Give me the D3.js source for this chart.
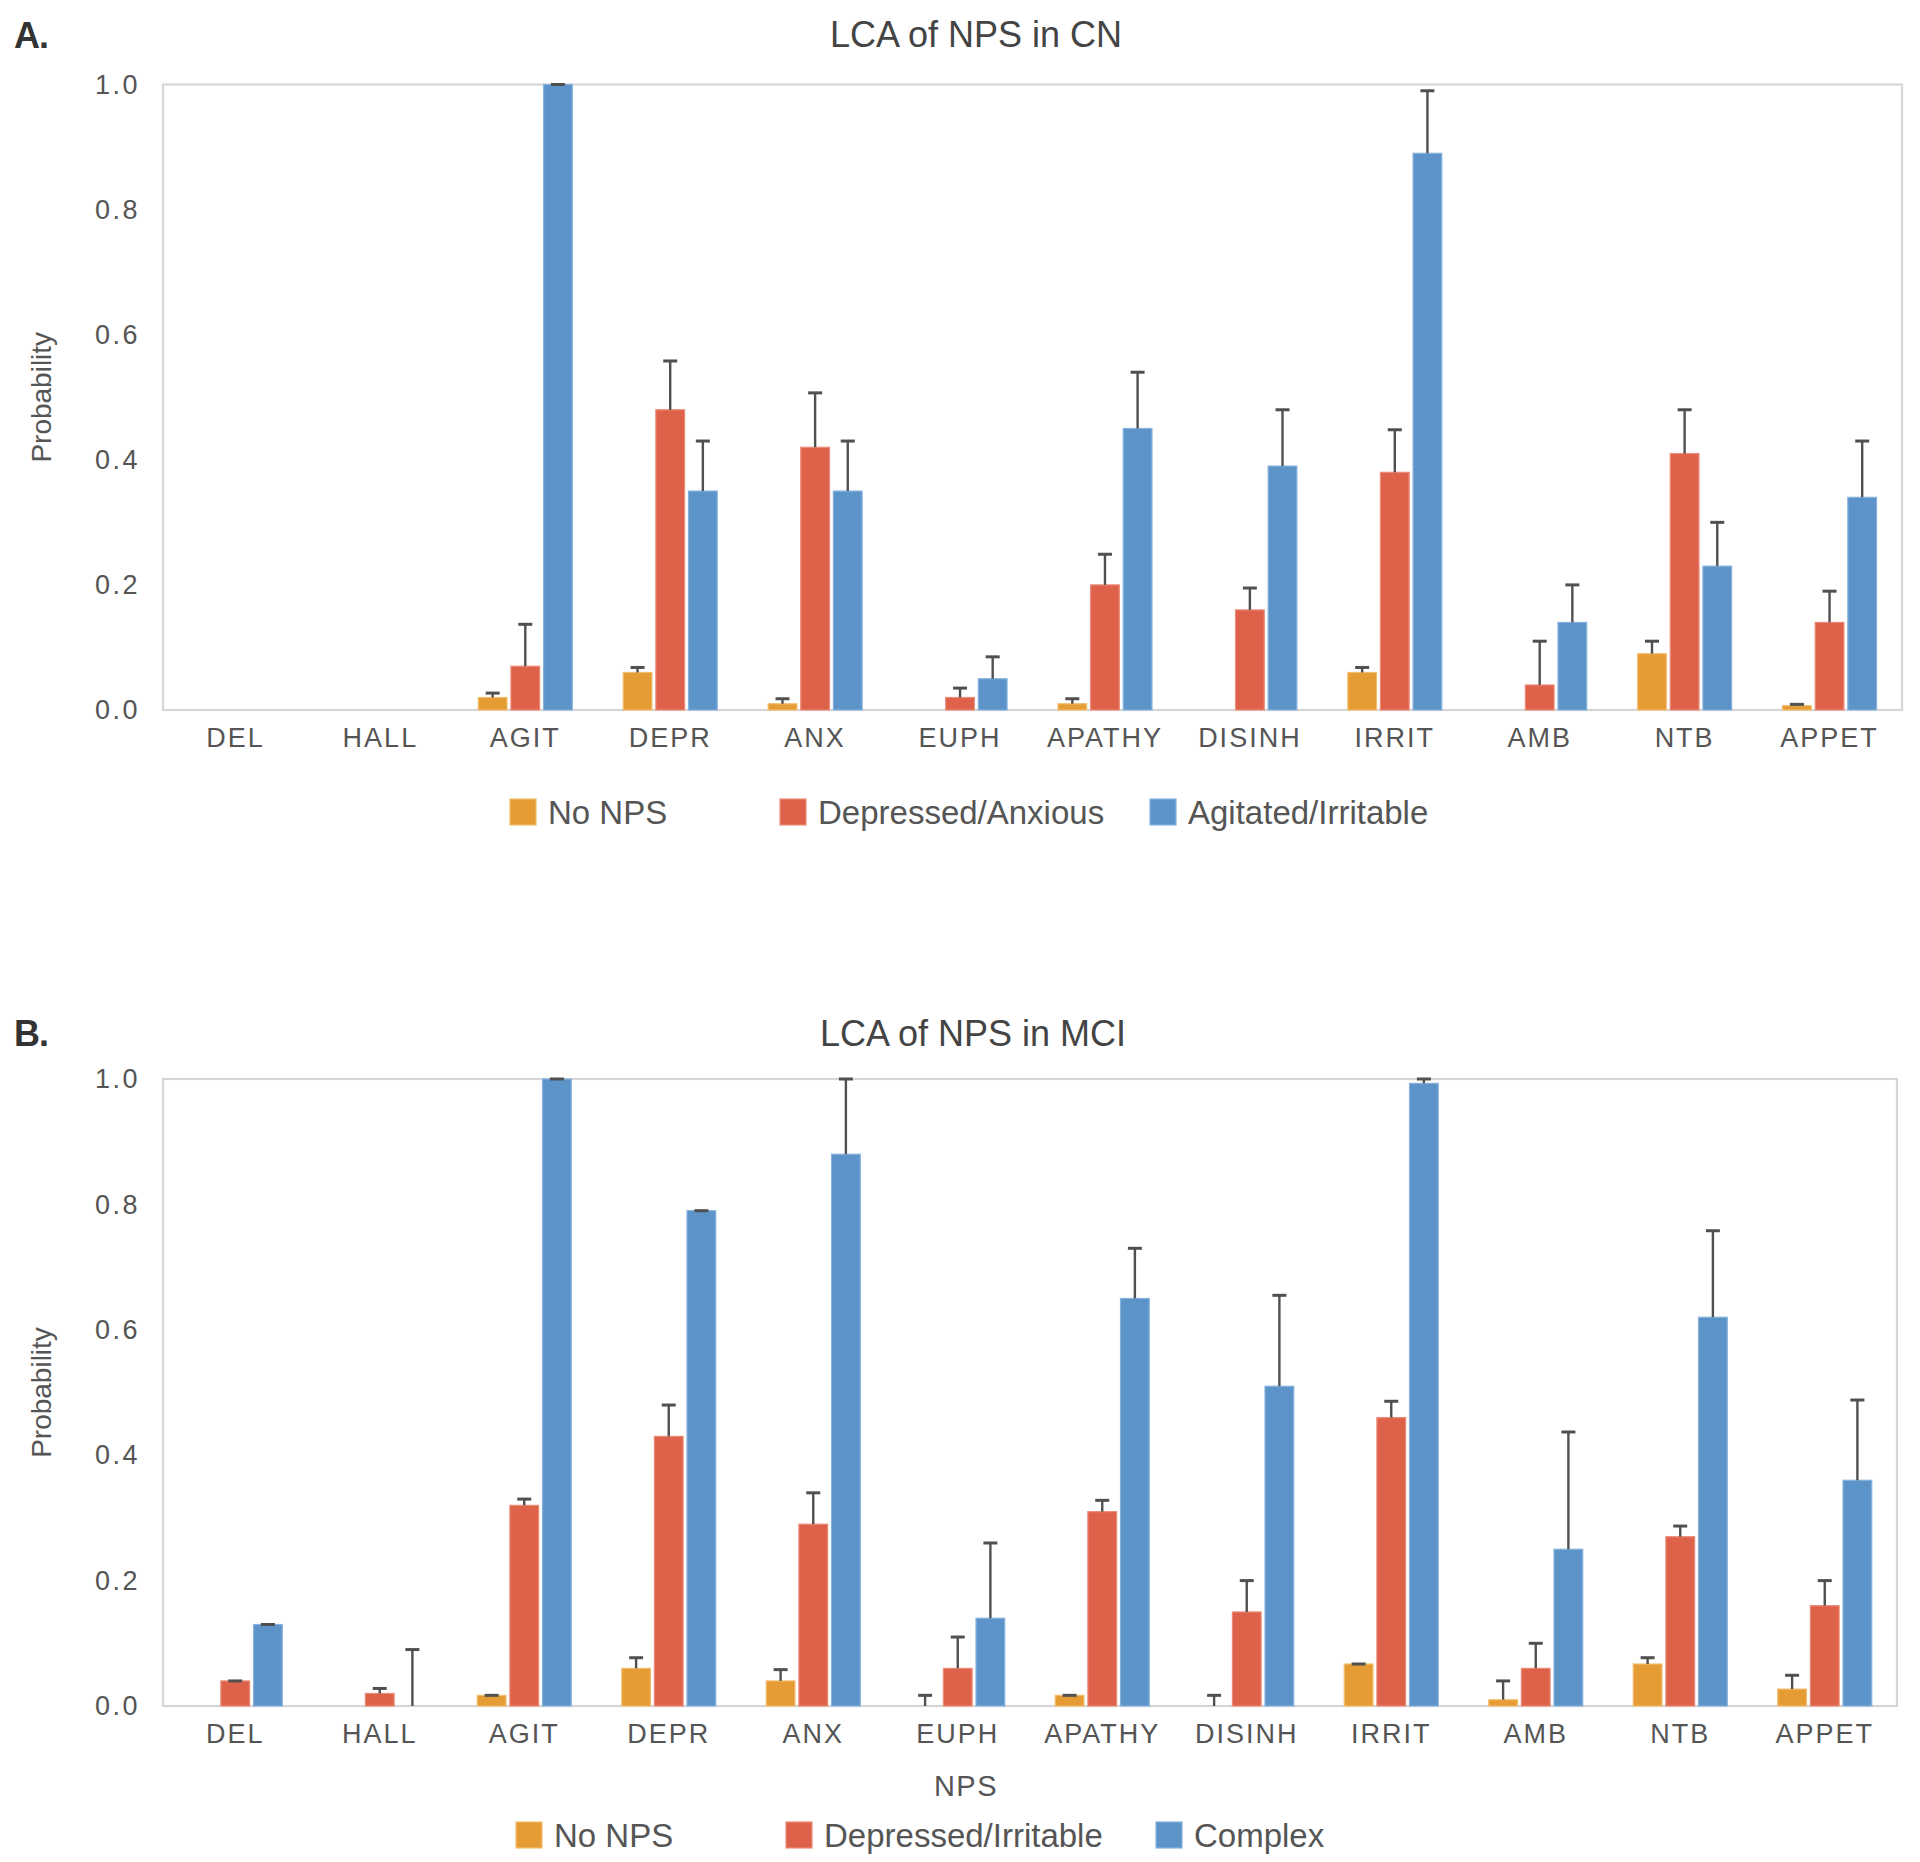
<!DOCTYPE html>
<html><head><meta charset="utf-8">
<script src="https://cdn.jsdelivr.net/npm/d3@7"></script>
<style>
html,body{margin:0;padding:0;background:#fff;}
svg{display:block;font-family:"Liberation Sans",Arial,Helvetica,sans-serif;}
</style></head>
<body>
<svg id="chart" width="1920" height="1862"></svg>
<script>
const categories = ["DEL","HALL","AGIT","DEPR","ANX","EUPH","APATHY","DISINH","IRRIT","AMB","NTB","APPET"];
const yTicks = [0,0.2,0.4,0.6,0.8,1.0];

// Panel A: LCA of NPS in CN
const seriesA = ["No NPS","Depressed/Anxious","Agitated/Irritable"];
const a_noNPS      = [0,0,0.02,0.06,0.01,0,0.01,0,0.06,0,0.09,0.007];
const a_noNPS_err  = [0,0,0.007,0.008,0.008,0,0.008,0,0.008,0,0.02,0.002];
const a_dep        = [0,0,0.07,0.48,0.42,0.02,0.20,0.16,0.38,0.04,0.41,0.14];
const a_dep_err    = [0,0,0.067,0.078,0.087,0.015,0.049,0.035,0.068,0.07,0.07,0.05];
const a_agit       = [0,0,1.0,0.35,0.35,0.05,0.45,0.39,0.89,0.14,0.23,0.34];
const a_agit_err   = [0,0,0,0.08,0.08,0.035,0.09,0.09,0.10,0.06,0.07,0.09];

// Panel B: LCA of NPS in MCI
const seriesB = ["No NPS","Depressed/Irritable","Complex"];
const b_noNPS      = [0,0,0.017,0.06,0.04,0,0.017,0,0.067,0.01,0.067,0.027];
const b_noNPS_err  = [0,0,0,0.017,0.018,0.017,0,0.017,0,0.03,0.01,0.022];
const b_dep        = [0.04,0.02,0.32,0.43,0.29,0.06,0.31,0.15,0.46,0.06,0.27,0.16];
const b_dep_err    = [0,0.008,0.01,0.05,0.05,0.05,0.018,0.05,0.026,0.04,0.017,0.04];
const b_complex    = [0.13,0,1.0,0.79,0.88,0.14,0.65,0.51,0.993,0.25,0.62,0.36];
const b_complex_err= [0,0.09,0,0,0.12,0.12,0.08,0.145,0.007,0.187,0.138,0.128];

const colors = ["#E59C34","#DE614A","#5C93C9"];
const strokes = ["#F2BE6E","#EC8C79","#86B2DD"];
const textCol = "#555";

const svg = d3.select("#chart");

const panels = [
  {letter:"A.", title:"LCA of NPS in CN", series:seriesA,
   values:[a_noNPS,a_dep,a_agit], errs:[a_noNPS_err,a_dep_err,a_agit_err],
   left:163, right:1902, top:84.5, bottom:710, titleX:976, titleY:47, letterY:48,
   legendY:812, legendX:[510,780,1150], xTitle:null},
  {letter:"B.", title:"LCA of NPS in MCI", series:seriesB,
   values:[b_noNPS,b_dep,b_complex], errs:[b_noNPS_err,b_dep_err,b_complex_err],
   left:163, right:1897, top:1079, bottom:1706, titleX:973, titleY:1046, letterY:1046,
   legendY:1835, legendX:[516,786,1156], xTitle:"NPS", xTitleX:966}
];

panels.forEach(p => {
  const g = svg.append("g");
  const x = d3.scaleBand().domain(categories).range([p.left,p.right]).padding(0);
  const y = d3.scaleLinear().domain([0,1]).range([p.bottom,p.top]);
  const inner = d3.scaleBand().domain(d3.range(p.series.length)).range([-47,47]).paddingInner(0.12);

  // letter
  g.append("text").attr("x",14).attr("y",p.letterY).text(p.letter)
    .attr("font-size",36).attr("font-weight","bold").attr("fill","#333").attr("letter-spacing",-1);
  // title
  g.append("text").attr("x",p.titleX).attr("y",p.titleY).attr("text-anchor","middle")
    .text(p.title).attr("font-size",36).attr("fill","#444");

  // frame
  g.append("rect").attr("x",p.left).attr("y",p.top).attr("width",p.right-p.left).attr("height",p.bottom-p.top)
    .attr("fill","none").attr("stroke","#d6d6d6").attr("stroke-width",2.2);

  // y axis
  const ya = g.append("g").attr("transform",`translate(${p.left},0)`)
    .call(d3.axisLeft(y).tickValues(yTicks).tickFormat(d3.format(".1f")).tickSize(0).tickPadding(23));
  ya.select(".domain").remove();
  ya.selectAll("text").attr("font-size",27).attr("fill",textCol).attr("letter-spacing",2.5)
    .attr("font-family","Liberation Sans, Arial, sans-serif");

  // x axis
  const xa = g.append("g").attr("transform",`translate(0,${p.bottom})`)
    .call(d3.axisBottom(x).tickSize(0).tickPadding(18));
  xa.select(".domain").remove();
  xa.selectAll("text").attr("font-size",27).attr("fill",textCol).attr("letter-spacing",2)
    .attr("font-family","Liberation Sans, Arial, sans-serif");

  // y label
  g.append("text").attr("transform",`translate(${p.left-112},${(p.top+p.bottom)/2}) rotate(-90)`)
    .attr("text-anchor","middle").attr("font-size",28).attr("fill",textCol).text("Probability");

  // bars
  p.series.forEach((s,si) => {
    const data = categories.map((c,i) => ({c, v:p.values[si][i], e:p.errs[si][i]}));
    const sg = g.append("g");
    sg.selectAll("rect").data(data.filter(d=>d.v>0)).join("rect")
      .attr("x", d => x(d.c)+x.bandwidth()/2+inner(si))
      .attr("width", inner.bandwidth())
      .attr("y", d => y(d.v))
      .attr("height", d => y(0)-y(d.v))
      .attr("fill", colors[si]).attr("stroke", strokes[si]).attr("stroke-width",1.2);
    const eg = g.append("g").attr("stroke","#505050").attr("stroke-width",2.4);
    const ed = data.filter(d => d.v>0 || d.e>0);
    eg.selectAll("line.v").data(ed).join("line").attr("class","v")
      .attr("x1", d => x(d.c)+x.bandwidth()/2+inner(si)+inner.bandwidth()/2)
      .attr("x2", d => x(d.c)+x.bandwidth()/2+inner(si)+inner.bandwidth()/2)
      .attr("y1", d => y(d.v)).attr("y2", d => y(d.v+d.e));
    eg.selectAll("line.c").data(ed).join("line").attr("class","c")
      .attr("x1", d => x(d.c)+x.bandwidth()/2+inner(si)+inner.bandwidth()/2-7)
      .attr("x2", d => x(d.c)+x.bandwidth()/2+inner(si)+inner.bandwidth()/2+7)
      .attr("y1", d => y(d.v+d.e)).attr("y2", d => y(d.v+d.e)).attr("stroke-width",3);
  });

  // x title
  if (p.xTitle) {
    g.append("text").attr("x",p.xTitleX).attr("y",p.bottom+90).attr("text-anchor","middle")
      .attr("font-size",29).attr("fill",textCol).attr("letter-spacing",1.5).text(p.xTitle);
  }

  // legend
  const lg = g.append("g");
  p.series.forEach((s,si) => {
    lg.append("rect").attr("x",p.legendX[si]).attr("y",p.legendY-13).attr("width",26).attr("height",26)
      .attr("fill",colors[si]).attr("stroke",strokes[si]).attr("stroke-width",1.2);
    lg.append("text").attr("x",p.legendX[si]+38).attr("y",p.legendY+12).attr("font-size",33)
      .attr("fill",textCol).text(s);
  });
});
</script>
</body></html>
